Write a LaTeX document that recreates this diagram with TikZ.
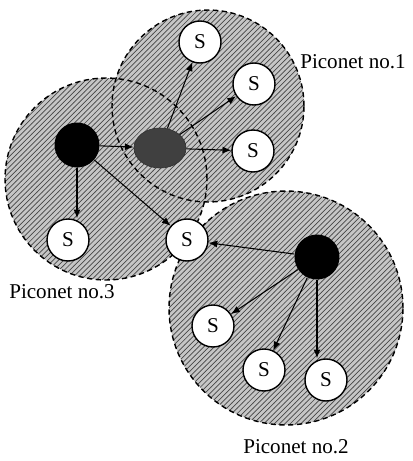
\documentclass[tikz,border=0pt]{standalone}
\usepackage{fontspec}
\setmainfont{Liberation Serif}
\usetikzlibrary{shapes.geometric,arrows.meta,patterns}
\begin{document}
\begin{tikzpicture}[x=0.02cm,y=-0.02cm,font=\fontsize{12}{14}\selectfont,
  area/.style={preaction={fill=gray!45},pattern=north east lines,pattern color=gray!55!black},
  rim/.style={draw,thick,dash pattern=on 3pt off 2pt},
  slave/.style={circle,draw,thick,fill=white,minimum size=0.84cm,inner sep=0pt,font=\fontsize{12}{14}\selectfont},
  master/.style={circle,fill=black,minimum size=0.9cm,inner sep=0pt},
  bridge/.style={ellipse,fill=black!75,draw=black!80,minimum width=1.04cm,minimum height=0.8cm,inner sep=0pt},
  link/.style={-{Latex[length=5pt,width=4pt]},semithick}]
  \useasboundingbox (0,0) rectangle (413,461);
  % piconet areas
  \fill[area] (208,106) circle[radius=1.92cm];
  \fill[area] (106,179) circle[radius=2.02cm];
  \fill[area] (286,308) circle[radius=2.34cm];
  \draw[rim] (208,106) circle[radius=1.92cm];
  \draw[rim] (106,179) circle[radius=2.02cm];
  \draw[rim] (286,308) circle[radius=2.34cm];
  % nodes
  \node[master] (m3) at (77,145){};
  \node[bridge] (br) at (160,148){};
  \node[master] (m2) at (317,257){};
  \node[slave] (s1) at (200,42){S};
  \node[slave] (s2) at (254,84){S};
  \node[slave] (s3) at (253,151){S};
  \node[slave] (s4) at (68,240){S};
  \node[slave] (s5) at (187,240){S};
  \node[slave] (s6) at (213,326){S};
  \node[slave] (s7) at (264,370){S};
  \node[slave] (s8) at (326,380){S};
  % links
  \draw[link] (m3) -- (br);
  \draw[link] (m3.south) -- (s4.north -| m3.south);
  \draw[link] (m3) -- (s5);
  \draw[link] (br) -- (s1);
  \draw[link] (br) -- (s2);
  \draw[link] (br) -- (s3);
  \draw[link] (m2) -- (s5);
  \draw[link] (m2) -- (s6);
  \draw[link] (m2) -- (s7);
  \draw[link] (m2.south) -- (s8.north -| m2.south);
  % labels
  \node (l1) at (353,62){Piconet no.1};
  \node (l3) at (62,292){Piconet no.3};
  \node (l2) at (296,447){Piconet no.2};
\end{tikzpicture}
\end{document}
